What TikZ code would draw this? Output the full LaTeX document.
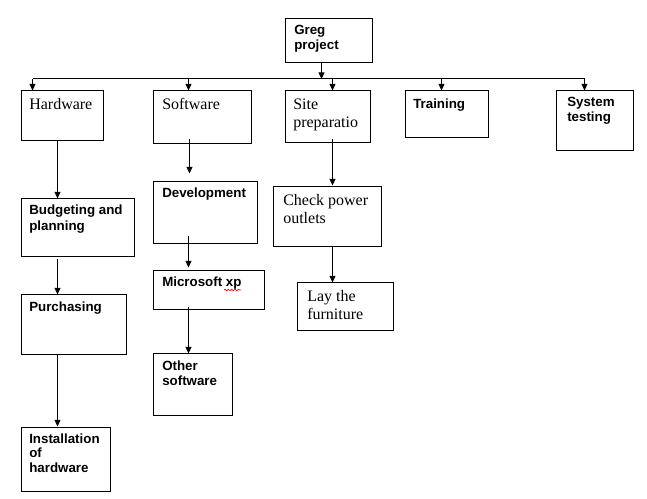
\documentclass[tikz,border=0pt]{standalone}
\usepackage{fontspec}
\setmainfont{Liberation Serif}
\newfontfamily\arialfont{Liberation Sans}
\usetikzlibrary{arrows.meta,calc,fit,decorations.pathmorphing}
\newcommand{\mlines}[1]{\begin{tabular}[t]{@{}l@{}}#1\end{tabular}}
\newcommand{\linkarrow}[5]{%
  \coordinate (tmpS) at ($(#1.south west)+(#2,#3)$);
  \draw[arr] (tmpS) -- ($(tmpS |- #4.north)+(0,#5)$);}
\begin{document}
\begin{tikzpicture}[x=0.75pt,y=-0.75pt,
  box/.style={draw,line width=0.75pt,inner sep=0pt},
  arr/.style={line width=0.75pt,-{Triangle[length=5pt,width=4.5pt]}},
  ser/.style={inner sep=0pt,anchor=base west,font=\fontsize{12}{13.8}\selectfont},
  san/.style={inner sep=0pt,anchor=base west,font=\arialfont\bfseries\fontsize{10}{11.25}\selectfont}]
\fill[white] (0,0) rectangle (647,499);
\useasboundingbox (0,0) rectangle (647,499);

% boxes
\node[box,fit={(285,19)(372,63)}] (gp) {};
\node[box,fit={(21,91)(103,141)}] (hw) {};
\node[box,fit={(153,91)(251,144)}] (sw) {};
\node[box,fit={(285,91)(370,143)}] (sp) {};
\node[box,fit={(405,91)(488,138)}] (tr) {};
\node[box,fit={(556,91)(633,151)}] (st) {};
\node[box,fit={(21,199)(134,257)}] (bp) {};
\node[box,fit={(21,295)(126,355)}] (pu) {};
\node[box,fit={(21,427)(110,491)}] (ih) {};
\node[box,fit={(153,182)(257,244)}] (dv) {};
\node[box,fit={(153,271)(264,310)}] (ms) {};
\node[box,fit={(153,354)(232,415)}] (os) {};
\node[box,fit={(273,187)(381,247)}] (cp) {};
\node[box,fit={(297,283)(393,331)}] (lf) {};

% texts
\node[san] (gpt) at (294,35) {\mlines{Greg\\project}};
\node[ser] (hwt) at (29,110) {Hardware};
\node[ser] (swt) at (162,110) {Software};
\node[ser,font=\fontsize{12}{13.5}\selectfont] (spt) at (293,110) {\mlines{Site\\preparatio}};
\node[san] (trt) at (413,109) {Training};
\node[san] (stt) at (567,107) {\mlines{System\\testing}};
\node[san,font=\arialfont\bfseries\fontsize{10}{12}\selectfont] (bpt) at (29,215) {\mlines{Budgeting and\\planning}};
\node[san] (dvt) at (162,198) {Development};
\node[ser,font=\fontsize{12}{13.5}\selectfont] (cpt) at (283,206) {\mlines{Check power\\outlets}};
\node[san] (mst) at (162,287) {Microsoft xp};
\node[san] (put) at (29,312) {Purchasing};
\node[ser,font=\fontsize{12}{13.5}\selectfont] (lft) at (307,301) {\mlines{Lay the\\furniture}};
\node[san] (ost) at (162,370) {\mlines{Other\\software}};
\node[san,font=\arialfont\bfseries\fontsize{10}{10.9}\selectfont] (iht) at (29,443) {\mlines{Installation\\of\\hardware}};

% spelling squiggle
\draw[red,line width=0.5pt,decorate,decoration={snake,amplitude=0.6pt,segment length=2.5pt}] (224,290) -- (241,290);

% top connector and bus
\coordinate (bus) at (0,79);
\coordinate (gpo) at ($(gp.south west)+(37,0)$);
\draw[arr] (gpo) -- (gpo |- bus);
\foreach \n/\d in {hw/12,sw/36,sp/48,tr/37,st/29}{
  \coordinate (\n-in) at ($(\n.north west)+(\d,0)$);
}
\draw[line width=0.75pt] (hw-in |- bus) -- (st-in |- bus);
\foreach \n in {hw,sw,sp,tr,st}{
  \draw[arr] (\n-in |- bus) -- (\n-in);
}

% vertical connectors
\linkarrow{hw}{37}{0}{bp}{0}
\linkarrow{bp}{37}{2}{pu}{0}
\linkarrow{pu}{37}{0}{ih}{0}
\linkarrow{sw}{37}{-5}{dv}{-8}
\linkarrow{dv}{36}{-8}{ms}{-3}
\linkarrow{ms}{36}{-3}{os}{0}
\linkarrow{sp}{48}{-4}{cp}{-1}
\linkarrow{cp}{60}{0}{lf}{0}
\end{tikzpicture}
\end{document}
